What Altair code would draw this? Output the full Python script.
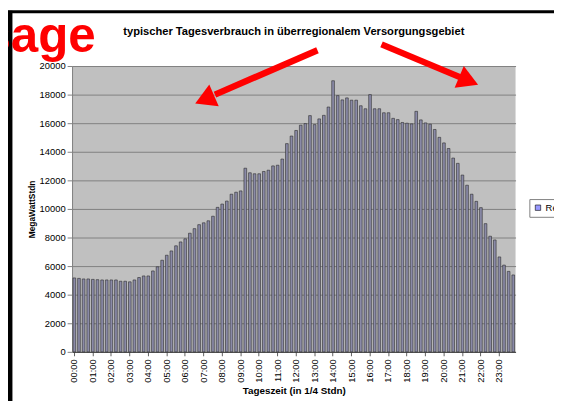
import altair as alt
import pandas as pd

# ---- data -------------------------------------------------------------
hour_labels = ["00:00", "01:00", "02:00", "03:00", "04:00", "05:00", "06:00", "07:00",
               "08:00", "09:00", "10:00", "11:00", "12:00", "13:00", "14:00", "15:00",
               "16:00", "17:00", "18:00", "19:00", "20:00", "21:00", "22:00", "23:00"]
quarter_suffix = [":00", ":15", ":30", ":45"]
time_labels = [h[:2] + q for h in hour_labels for q in quarter_suffix]

megawatt = [
    5170, 5140, 5100, 5100, 5070, 5050, 5030, 5030, 5030, 5030, 4940, 4940,
    4900, 5030, 5200, 5310, 5310, 5660, 5950, 6410, 6760, 7060, 7420, 7690,
    7910, 8300, 8620, 8900, 9030, 9170, 9490, 10110, 10340, 10550, 11030, 11170,
    11260, 12850, 12530, 12460, 12460, 12620, 12710, 13010, 13060, 13490, 14570, 15100,
    15490, 15860, 15970, 16530, 15900, 16300, 16550, 17130, 18970, 17930, 17630, 17770,
    17610, 17610, 17220, 17010, 18000, 17010, 17010, 16730, 16730, 16340, 16250, 16050,
    16000, 15950, 16830, 16230, 16020, 15930, 15560, 15010, 14620, 14230, 13560, 13190,
    12370, 11660, 11030, 10530, 10090, 8970, 8090, 7830, 6640, 6070, 5630, 5380,
]
series_names = ["Reihe1"]
y_ticks = [0, 2000, 4000, 6000, 8000, 10000, 12000, 14000, 16000, 18000, 20000]

title_text = "typischer Tagesverbrauch in überregionalem Versorgungsgebiet"
x_title = "Tageszeit (in 1/4 Stdn)"
y_title = "MegaWattStdn"
overlay_word = "sage"

df = pd.DataFrame({"Zeit": time_labels, "MW": megawatt})
legend_df = pd.DataFrame({"Reihe": series_names})
one = pd.DataFrame({"k": [0]})

FONT = "Liberation Sans"
RED = "#ff0000"

# ---- bars -------------------------------------------------------------
bars = alt.Chart(df).mark_bar(fill="#8a8aa8", stroke="#2a2a2a", strokeWidth=0.6).encode(
    x=alt.X("Zeit:N", sort=None,
            scale=alt.Scale(paddingInner=0.42, paddingOuter=0.21),
            axis=alt.Axis(values=hour_labels, labelAngle=-90, title=x_title,
                          labelFontSize=9.5, tickSize=4, labelPadding=3,
                          titleFontSize=10, titleFontWeight="bold", titlePadding=4,
                          domainColor="#404040", tickColor="#606060", grid=False)),
    y=alt.Y("MW:Q", scale=alt.Scale(domain=[0, 20000], nice=False),
            axis=alt.Axis(values=y_ticks, title=y_title, format="d",
                          labelFontSize=9.5, tickSize=5, labelPadding=2,
                          titleFontSize=8.5, titleFontWeight="bold", titlePadding=3,
                          grid=True, gridColor="#808080", gridWidth=1,
                          domainColor="#808080", tickColor="#808080")),
)

# legend-only layer (its square sits outside the canvas)
legend_layer = alt.Chart(legend_df).mark_square(size=30, filled=True, opacity=1).encode(
    x=alt.value(3000), y=alt.value(3000),
    color=alt.Color("Reihe:N", scale=alt.Scale(range=["#9999ff"]),
                    legend=alt.Legend(orient="none", legendX=464, legendY=135, title=None,
                                      symbolType="square", symbolSize=30,
                                      symbolStrokeColor="#000000", symbolStrokeWidth=0.6,
                                      labelFontSize=9.5, labelFont=FONT, labelColor="black",
                                      labelOffset=3,
                                      padding=4, fillColor="white", strokeColor="#808080")),
)

# ---- frame of the screenshot -----------------------------------------
frame_top = alt.Chart(one).mark_rule(color="black", strokeWidth=3).encode(
    x=alt.value(-65), x2=alt.value(500), y=alt.value(-55))
frame_left = alt.Chart(one).mark_rule(color="black", strokeWidth=5).encode(
    x=alt.value(-63), y=alt.value(-56), y2=alt.value(340))

# ---- title (as text) -------------------------------------------------
title = alt.Chart(one).mark_text(text=title_text, font=FONT, fontSize=11.3, fontWeight="bold",
                                 color="black", align="center", baseline="alphabetic").encode(
    x=alt.value(225), y=alt.value(-31))

# ---- red arrows -------------------------------------------------------
shaft1 = alt.Chart(one).mark_rule(color=RED, strokeWidth=6.5, strokeCap="butt").encode(
    x=alt.value(249), y=alt.value(-16), x2=alt.value(145), y2=alt.value(29))
head1 = alt.Chart(one).mark_point(shape="triangle-up", filled=True, size=576, angle=246.5,
                                  color=RED, opacity=1, strokeWidth=0).encode(
    x=alt.value(134.5), y=alt.value(33.9))
shaft2 = alt.Chart(one).mark_rule(color=RED, strokeWidth=6.5, strokeCap="butt").encode(
    x=alt.value(314), y=alt.value(-22), x2=alt.value(393.5), y2=alt.value(11.3))
head2 = alt.Chart(one).mark_point(shape="triangle-up", filled=True, size=576, angle=112.7,
                                  color=RED, opacity=1, strokeWidth=0).encode(
    x=alt.value(402.4), y=alt.value(15.0))

word = alt.Chart(one).mark_text(text=overlay_word, font=FONT, fontSize=50, fontWeight="bold",
                                color=RED, align="right", baseline="alphabetic").encode(
    x=alt.value(24), y=alt.value(-14))

chart = alt.layer(bars, legend_layer, frame_top, frame_left, title,
                  shaft1, head1, shaft2, head2, word).properties(
    width=450, height=290,
    padding={"left": 65, "top": 56, "right": 39, "bottom": 47},
    autosize=alt.AutoSizeParams(type="none"),
    background="white",
).configure_view(fill="#c0c0c0", stroke=None).configure_axis(
    labelFont=FONT, titleFont=FONT, labelColor="black", titleColor="black")

chart.save("out.html", embed_options={"renderer": "svg", "actions": False})
